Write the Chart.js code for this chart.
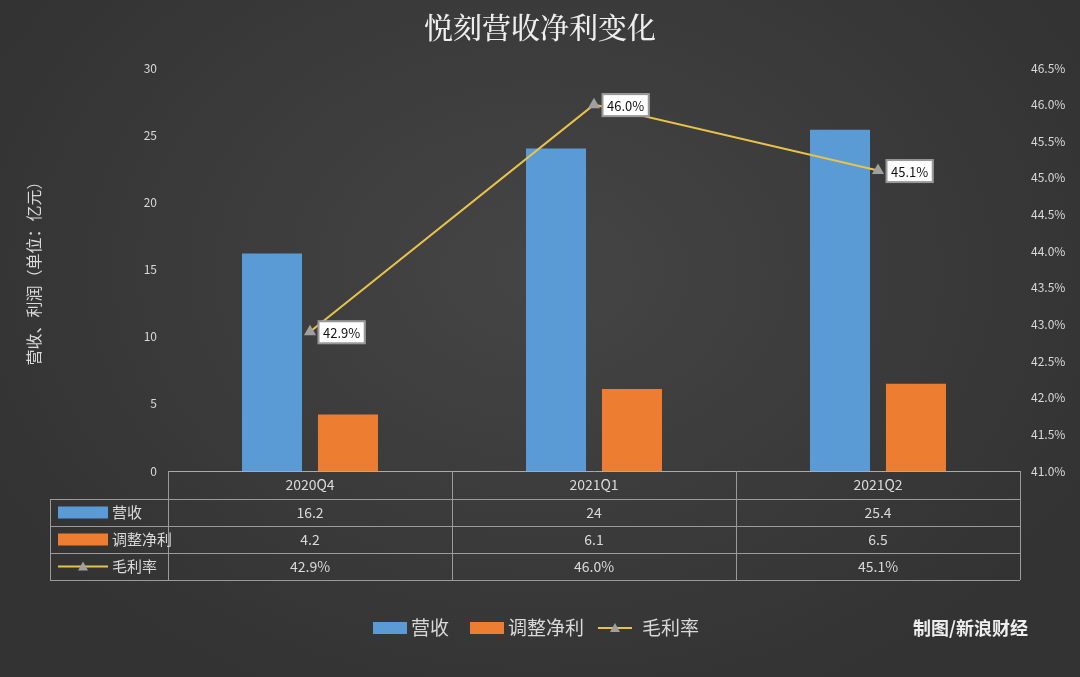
<!DOCTYPE html>
<html><head><meta charset="utf-8">
<script src="https://cdn.jsdelivr.net/npm/chart.js@4/dist/chart.umd.min.js"></script>
<style>
html,body{margin:0;padding:0;background:#3b3b3b}
#wrap{width:1080px;height:677px;background:radial-gradient(ellipse at 50% 40%,#454545,#333 80%)}
</style></head><body>
<div id="wrap"><canvas id="c" width="1080" height="677"></canvas></div>
<script>
const categories = ['2020Q4', '2021Q1', '2021Q2']
const revenue = [16.2, 24, 25.4]
const netProfit = [4.2, 6.1, 6.5]
const grossMargin = [42.9, 46.0, 45.1]
const seriesNames = ['营收', '调整净利', '毛利率']

const FONT = '"Noto Sans CJK SC", "Noto Sans", sans-serif'
const TXT = '#d9d9d9'
const BLUE = '#5b9bd5', ORANGE = '#ed7d31', GOLD = '#e8c34a'

// 画标题、表格、图例、署名
const extras = {
  id: 'extras',
  afterDraw(chart) {
    const ctx = chart.ctx, x = chart.scales.x, area = chart.chartArea
    ctx.save()
    ctx.fillStyle = '#eeeeee'
    ctx.font = '500 29px "Noto Serif CJK SC", ' + FONT
    ctx.textAlign = 'center'; ctx.textBaseline = 'middle'
    ctx.fillText('悦刻营收净利变化', 540, 28)

    // 数据表
    const rows = [471, 499, 526, 553, 580]
    const colW = x.getPixelForValue(1) - x.getPixelForValue(0)
    const left = 50, right = area.right
    ctx.strokeStyle = '#9a9a9a'; ctx.lineWidth = 1
    ctx.beginPath()
    for (let i = 1; i < rows.length; i++) {
      ctx.moveTo(left, rows[i] + 0.5); ctx.lineTo(right, rows[i] + 0.5)
    }
    ctx.moveTo(left + 0.5, rows[1]); ctx.lineTo(left + 0.5, rows[4])
    for (let i = 0; i <= categories.length; i++) {
      const px = Math.round(x.getPixelForValue(i) - colW / 2) + 0.5
      ctx.moveTo(px, rows[0]); ctx.lineTo(px, rows[4])
    }
    ctx.stroke()
    ctx.fillStyle = TXT; ctx.font = '14px ' + FONT
    const tableRows = [revenue, netProfit, grossMargin.map(v => v.toFixed(1) + '%')]
    categories.forEach((c, i) => {
      const px = x.getPixelForValue(i)
      ctx.fillText(c, px, (rows[0] + rows[1]) / 2)
      tableRows.forEach((r, j) => ctx.fillText(String(r[i]), px, (rows[j + 1] + rows[j + 2]) / 2))
    })
    // 行标题
    ctx.textAlign = 'left'
    seriesNames.forEach((n, j) => {
      const cy = (rows[j + 1] + rows[j + 2]) / 2
      drawKey(ctx, j, 58, cy, 50)
      ctx.fillStyle = TXT; ctx.font = '15px ' + FONT
      ctx.fillText(n, 112, cy)
    })

    // 图例
    const lx = [373, 470, 598]
    ctx.font = '19px ' + FONT
    seriesNames.forEach((n, j) => {
      drawKey(ctx, j, lx[j], 628, 34)
      ctx.fillStyle = TXT
      ctx.fillText(n, lx[j] + (j === 2 ? 44 : 38), 628)
    })
    ctx.fillStyle = '#eeeeee'; ctx.font = 'bold 18px ' + FONT
    ctx.textAlign = 'right'
    ctx.fillText('制图/新浪财经', 1028, 628)

    // 毛利率标签
    const meta = chart.getDatasetMeta(2)
    ctx.font = '13px ' + FONT; ctx.textAlign = 'left'
    meta.data.forEach((p, i) => {
      const t = grossMargin[i].toFixed(1) + '%'
      const w = ctx.measureText(t).width + 10
      const bx = p.x + 8, by = p.y
      ctx.fillStyle = '#ffffff'; ctx.fillRect(bx, by - 11, w, 23)
      ctx.strokeStyle = '#999'; ctx.strokeRect(bx + 0.5, by - 10.5, w - 1, 22)
      ctx.fillStyle = '#111'; ctx.fillText(t, bx + 5, by + 1)
    })
    ctx.restore()
  }
}

function drawKey(ctx, j, x, y, w) {
  if (j < 2) {
    ctx.fillStyle = j === 0 ? BLUE : ORANGE
    ctx.fillRect(x, y - 6, w, 12)
  } else {
    ctx.strokeStyle = GOLD; ctx.lineWidth = 2
    ctx.beginPath(); ctx.moveTo(x, y); ctx.lineTo(x + w, y); ctx.stroke()
    ctx.fillStyle = '#a0a0a0'
    ctx.beginPath(); ctx.moveTo(x + w / 2, y - 5); ctx.lineTo(x + w / 2 + 5, y + 4); ctx.lineTo(x + w / 2 - 5, y + 4); ctx.fill()
  }
}

new Chart(document.getElementById('c'), {
  data: {
    labels: categories,
    datasets: [
      { type: 'bar', label: seriesNames[0], data: revenue, backgroundColor: BLUE, yAxisID: 'y', order: 2, categoryPercentage: 0.535, barPercentage: 0.79 },
      { type: 'bar', label: seriesNames[1], data: netProfit, backgroundColor: ORANGE, yAxisID: 'y', order: 2, categoryPercentage: 0.535, barPercentage: 0.79 },
      { type: 'line', label: seriesNames[2], data: grossMargin, borderColor: GOLD, borderWidth: 2, yAxisID: 'y1', order: 1,
        pointStyle: 'triangle', pointRadius: 5, pointBackgroundColor: '#a0a0a0', pointBorderColor: '#a0a0a0' }
    ]
  },
  options: {
    responsive: false, animation: false,
    layout: { padding: { top: 68, bottom: 198, left: 20, right: 0 } },
    plugins: { legend: { display: false }, tooltip: { enabled: false } },
    scales: {
      x: { grid: { display: false }, ticks: { display: false }, border: { color: '#aaa' } },
      y: {
        min: 0, max: 30, ticks: { stepSize: 5, color: TXT, font: { size: 12, family: FONT } },
        grid: { display: false }, border: { display: false },
        title: { display: true, text: '营收、利润（单位：亿元）', color: TXT, font: { size: 16, family: FONT } },
        afterFit(s) { s.width = 148 }
      },
      y1: {
        position: 'right', min: 41, max: 46.5,
        ticks: { stepSize: 0.5, color: TXT, font: { size: 12, family: FONT }, callback: v => v.toFixed(1) + '%' },
        grid: { display: false }, border: { display: false },
        afterFit(s) { s.width = 60 }
      }
    }
  },
  plugins: [extras]
})
</script>
</body></html>
